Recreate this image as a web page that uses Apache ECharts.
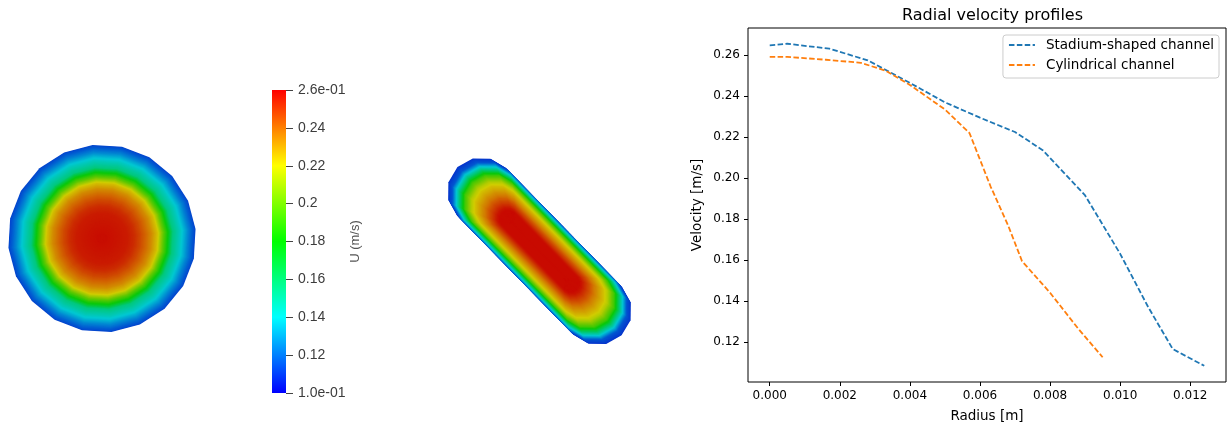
<!DOCTYPE html>
<html>
<head>
<meta charset="utf-8">
<script src="https://cdn.jsdelivr.net/npm/echarts@6/dist/echarts.min.js"></script>
<style>
  html, body { margin: 0; padding: 0; background: #fff; }
  #chart { width: 1232px; height: 428px; }
</style>
</head>
<body>
<div id="chart"></div>
<script>
// ---- data ----
// stadium-shaped channel: radius [m] / velocity [m/s]
const STAD_RADIUS = [0, 0.0005, 0.0017, 0.0028, 0.0040, 0.0050, 0.0060, 0.0070, 0.0078, 0.0090, 0.0100, 0.0108, 0.0115, 0.0124];
const STAD_VELOCITY = [0.2648, 0.2656, 0.2632, 0.2575, 0.2465, 0.2370, 0.2295, 0.2225, 0.2135, 0.1915, 0.1630, 0.1370, 0.1165, 0.1083];

// cylindrical channel
const CYL_RADIUS = [0, 0.0005, 0.0016, 0.0026, 0.0033, 0.0040, 0.0050, 0.0057, 0.0063, 0.0068, 0.0072, 0.0080, 0.0088, 0.0095];
const CYL_VELOCITY = [0.2592, 0.2592, 0.2578, 0.2563, 0.2525, 0.2455, 0.2335, 0.2220, 0.1960, 0.1770, 0.1594, 0.1440, 0.1265, 0.1125];

const SERIES_NAMES = ["Stadium-shaped channel", "Cylindrical channel"];

// tick labels
const X_TICKS = [0, 0.002, 0.004, 0.006, 0.008, 0.010, 0.012];
const Y_TICKS = [0.12, 0.14, 0.16, 0.18, 0.20, 0.22, 0.24, 0.26];
const U_TICKS = [0.10, 0.12, 0.14, 0.16, 0.18, 0.20, 0.22, 0.24, 0.26];
const U_RANGE = [0.10, 0.26];

// ---- styles / layout ----
const RAINBOW = ["#0000ff", "#0080ff", "#00ffff", "#00ff80", "#00ff00", "#80ff00", "#ffff00", "#ff8000", "#ff0000"];
// lit surfaces in the 3D view come out darker than the colour bar
const RAINBOW_SHADED = ["#0a14c8", "#0064d2", "#00c8d2", "#00c878", "#0ac80a", "#6ec800", "#d2cd00", "#d26400", "#c80a00"];
const BLUE = "#1f77b4";
const ORANGE = "#ff7f0e";
const MPL_FONT = "DejaVu Sans";
const PV_FONT = "Liberation Sans";

const CIRCLE = { cx: 102, cy: 238.5, pxRadius: 94, half: 100 };
const STADIUM = { cx: 539.5, cy: 251.2, pxLength: 117.5, half: 130, halfWidth: 0.00359, angle: -45.7 };

function hexRgb(h) {
  return [1, 3, 5].map((i) => parseInt(h.slice(i, i + 2), 16));
}

function fieldColor(v) {
  let t = (v - U_RANGE[0]) / (U_RANGE[1] - U_RANGE[0]);
  t = Math.max(0, Math.min(1, t)) * (RAINBOW_SHADED.length - 1);
  const i = Math.min(Math.floor(t), RAINBOW_SHADED.length - 2);
  const f = t - i;
  const a = hexRgb(RAINBOW_SHADED[i]);
  const b = hexRgb(RAINBOW_SHADED[i + 1]);
  const c = a.map((x, k) => Math.round(x + (b[k] - x) * f));
  return `rgb(${c[0]},${c[1]},${c[2]})`;
}

// outlines in metres, centred on the channel axis
function circleOutline(r) {
  const pts = [];
  for (let k = 0; k < 20; k++) {
    const th = (k / 20) * Math.PI * 2 + 0.1;
    pts.push([r * Math.cos(th), r * Math.sin(th)]);
  }
  return pts;
}

function stadiumOutline(r, rmax) {
  const s = r / rmax;
  const b = STADIUM.halfWidth;
  // slow contours hug the walls along the straight part
  const hw = b * Math.pow(Math.min(1, s / 0.92), 0.85);
  const hl = rmax - 2.3 * (1 - s) * b;
  const c = Math.max(hl - hw, 0);
  const al = (STADIUM.angle * Math.PI) / 180;
  const pts = [];
  const seg = 6;
  for (let k = 0; k <= seg; k++) {
    const ph = -Math.PI / 2 + (k / seg) * Math.PI;
    pts.push([c + hw * Math.cos(ph), hw * Math.sin(ph)]);
  }
  for (let k = 0; k <= seg; k++) {
    const ph = Math.PI / 2 + (k / seg) * Math.PI;
    pts.push([-c + hw * Math.cos(ph), hw * Math.sin(ph)]);
  }
  return pts.map(([x, y]) => [x * Math.cos(al) - y * Math.sin(al), x * Math.sin(al) + y * Math.cos(al)]);
}

// nested rings, outermost first, shaded between neighbouring profile points
function fieldSeries(axisIdx, radius, velocity, outline) {
  const rmax = radius[radius.length - 1];
  const data = radius.map((r, i) => [r, velocity[i]]).reverse();
  return {
    type: "custom",
    xAxisIndex: axisIdx,
    yAxisIndex: axisIdx,
    silent: true,
    data,
    renderItem(params, api) {
      const r0 = api.value(0);
      const v0 = api.value(1);
      const inner = data[params.dataIndex + 1];
      const steps = inner ? 10 : 1;
      const children = [];
      for (let k = 0; k < steps; k++) {
        const t = k / steps;
        const r = inner ? r0 + (inner[0] - r0) * t : r0;
        const v = inner ? v0 + (inner[1] - v0) * t : v0;
        children.push({
          type: "polygon",
          shape: { points: outline(r, rmax).map((p) => api.coord(p)) },
          style: { fill: fieldColor(v) },
        });
      }
      return { type: "group", children };
    },
  };
}

const circleHalfM = CIRCLE.half * (CYL_RADIUS[CYL_RADIUS.length - 1] / CIRCLE.pxRadius);
const stadHalfM = STADIUM.half * (STAD_RADIUS[STAD_RADIUS.length - 1] / STADIUM.pxLength);

const hiddenAxis = (idx, h) => ({ gridIndex: idx, type: "value", min: -h, max: h, show: false });

const chartDom = document.getElementById("chart");
const myChart = echarts.init(chartDom, null, { renderer: "canvas" });

const option = {
  animation: false,
  backgroundColor: "#fff",
  title: {
    text: "Radial velocity profiles",
    left: 897,
    top: 3,
    textStyle: { fontFamily: MPL_FONT, fontSize: 16, fontWeight: "normal", color: "#000" },
  },
  legend: {
    data: SERIES_NAMES,
    orient: "vertical",
    right: 13,
    top: 35,
    itemWidth: 26,
    itemHeight: 12,
    itemGap: 6,
    padding: [3, 5, 6, 5],
    backgroundColor: "rgba(255,255,255,0.8)",
    borderColor: "#cccccc",
    borderWidth: 1,
    borderRadius: 3,
    itemStyle: { opacity: 0 },
    textStyle: { fontFamily: MPL_FONT, fontSize: 13.5, color: "#000", padding: [0, 0, 0, 6] },
  },
  grid: [
    { left: CIRCLE.cx - CIRCLE.half, top: CIRCLE.cy - CIRCLE.half, width: 2 * CIRCLE.half, height: 2 * CIRCLE.half },
    { left: STADIUM.cx - STADIUM.half, top: STADIUM.cy - STADIUM.half, width: 2 * STADIUM.half, height: 2 * STADIUM.half },
    { left: 272, top: 90, width: 14, height: 303 },
    { left: 748, right: 6, top: 28, bottom: 45, show: true, borderColor: "#000", borderWidth: 1 },
  ],
  xAxis: [
    hiddenAxis(0, circleHalfM),
    hiddenAxis(1, stadHalfM),
    { gridIndex: 2, type: "value", min: 0, max: 1, show: false },
    {
      gridIndex: 3,
      type: "value",
      min: -0.00062,
      max: 0.01302,
      name: "Radius [m]",
      nameLocation: "middle",
      nameGap: 27,
      nameTextStyle: { fontFamily: MPL_FONT, fontSize: 13.5, color: "#000" },
      axisLine: { show: false, onZero: false },
      axisTick: { show: true, length: 4, lineStyle: { color: "#000" }, customValues: X_TICKS },
      axisLabel: {
        customValues: X_TICKS,
        margin: 8,
        fontFamily: MPL_FONT,
        fontSize: 12,
        color: "#000",
        formatter: (v) => v.toFixed(3),
      },
      splitLine: { show: false },
    },
  ],
  yAxis: [
    hiddenAxis(0, circleHalfM),
    hiddenAxis(1, stadHalfM),
    {
      gridIndex: 2,
      type: "value",
      position: "right",
      min: U_RANGE[0],
      max: U_RANGE[1],
      name: "U (m/s)",
      nameLocation: "middle",
      nameRotate: 90,
      nameGap: 62,
      nameTextStyle: { fontFamily: PV_FONT, fontSize: 13, color: "#555" },
      axisLine: { show: false, onZero: false },
      axisTick: { show: true, length: 7, lineStyle: { color: "#444" }, customValues: U_TICKS },
      axisLabel: {
        customValues: U_TICKS,
        margin: 12,
        fontFamily: PV_FONT,
        fontSize: 14,
        color: "#3c3c3c",
        formatter: (v) => {
          if (Math.abs(v - U_RANGE[0]) < 1e-9 || Math.abs(v - U_RANGE[1]) < 1e-9) {
            return v.toExponential(1).replace(/e([+-])(\d)$/, "e$10$2");
          }
          return String(+v.toFixed(2));
        },
      },
      splitLine: { show: false },
    },
    {
      gridIndex: 3,
      type: "value",
      min: 0.1004,
      max: 0.2733,
      name: "Velocity [m/s]",
      nameLocation: "middle",
      nameGap: 44,
      nameTextStyle: { fontFamily: MPL_FONT, fontSize: 13.5, color: "#000" },
      axisLine: { show: false, onZero: false },
      axisTick: { show: true, length: 4, lineStyle: { color: "#000" }, customValues: Y_TICKS },
      axisLabel: {
        customValues: Y_TICKS,
        margin: 8,
        fontFamily: MPL_FONT,
        fontSize: 12,
        color: "#000",
        formatter: (v) => v.toFixed(2),
      },
      splitLine: { show: false },
    },
  ],
  series: [
    fieldSeries(0, CYL_RADIUS, CYL_VELOCITY, (r) => circleOutline(r)),
    fieldSeries(1, STAD_RADIUS, STAD_VELOCITY, stadiumOutline),
    {
      // colour bar
      type: "custom",
      xAxisIndex: 2,
      yAxisIndex: 2,
      silent: true,
      data: [U_RANGE],
      renderItem(params, api) {
        const top = api.coord([0, api.value(1)]);
        const bottom = api.coord([1, api.value(0)]);
        const n = RAINBOW.length - 1;
        return {
          type: "rect",
          shape: { x: top[0], y: top[1], width: bottom[0] - top[0], height: bottom[1] - top[1] },
          style: {
            fill: new echarts.graphic.LinearGradient(0, 0, 0, 1,
              RAINBOW.map((c, i) => ({ offset: 1 - i / n, color: c }))),
          },
        };
      },
    },
    {
      name: SERIES_NAMES[0],
      type: "line",
      xAxisIndex: 3,
      yAxisIndex: 3,
      symbol: "none",
      data: STAD_RADIUS.map((r, i) => [r, STAD_VELOCITY[i]]),
      itemStyle: { color: BLUE },
      lineStyle: { color: BLUE, width: 1.8, type: [5.5, 2.4] },
    },
    {
      name: SERIES_NAMES[1],
      type: "line",
      xAxisIndex: 3,
      yAxisIndex: 3,
      symbol: "none",
      data: CYL_RADIUS.map((r, i) => [r, CYL_VELOCITY[i]]),
      itemStyle: { color: ORANGE },
      lineStyle: { color: ORANGE, width: 1.8, type: [5.5, 2.4] },
    },
  ],
};

myChart.setOption(option);
</script>
</body>
</html>
